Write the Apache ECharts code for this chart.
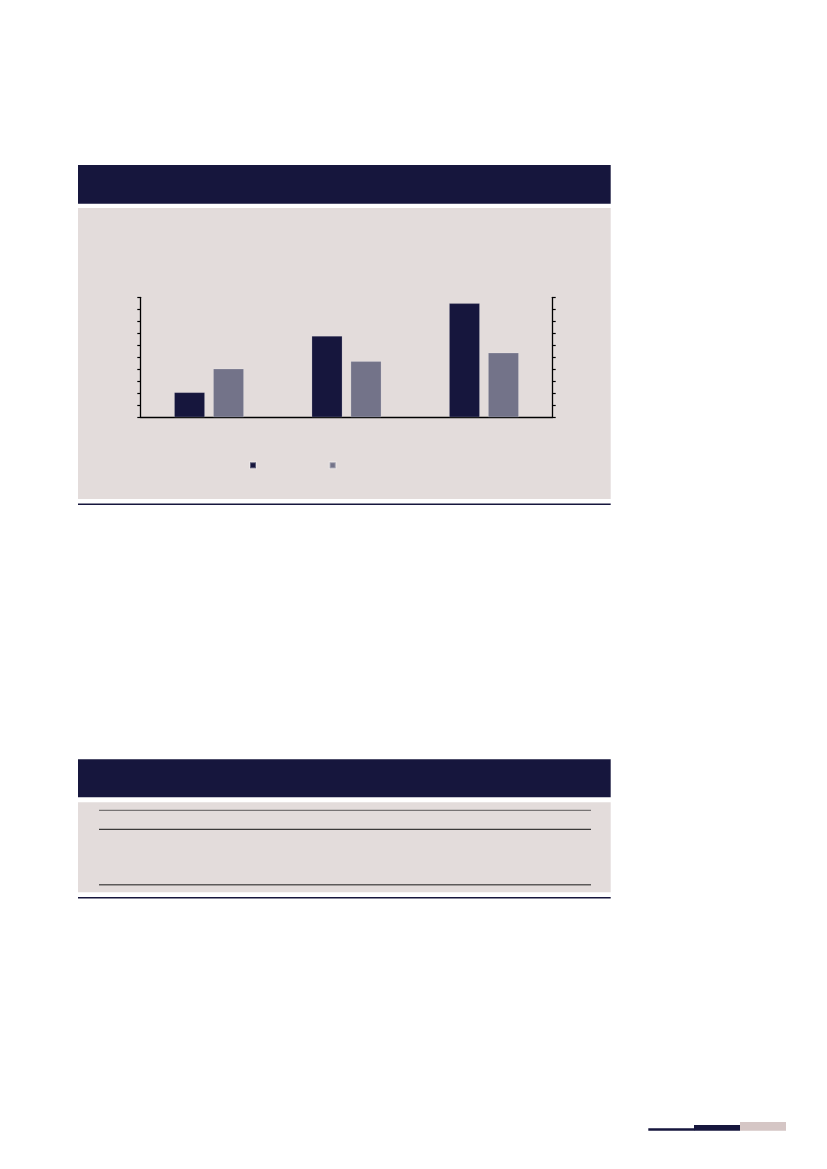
<!doctype html>
<html>
    <head>
        <meta charset="utf-8">
        <style>
            html, body { margin: 0; padding: 0; background: #fff; }
            #main { width: 827px; height: 1169px; }
        </style>
    </head>
    <body>
        <div id="main"></div>
        <script src="https://cdn.jsdelivr.net/npm/echarts@6/dist/echarts.min.js"></script>
        <script>
            // chart data (labels are not printed in the picture)
            var categories = ['A', 'B', 'C'];
            var seriesNames = ['Series 1', 'Series 2'];
            var series1 = [2.08, 6.78, 9.5];
            var series2 = [4.05, 4.67, 5.38];
            var axisMin = 0;
            var axisMax = 10;
            var axisStep = 1;

            var navy = '#16163d';
            var slate = '#737389';
            var panel = '#e3dcdb';

            var chart = echarts.init(document.getElementById('main'));

            function box(x, y, w, h, fill) {
                return {
                    type: 'rect',
                    silent: true,
                    z: -10,
                    shape: { x: x, y: y, width: w, height: h },
                    style: { fill: fill }
                };
            }
            function hline(x1, x2, y, color, width) {
                return {
                    type: 'line',
                    silent: true,
                    z: -5,
                    shape: { x1: x1, y1: y, x2: x2, y2: y },
                    style: { stroke: color, lineWidth: width }
                };
            }

            var yAxisBase = {
                type: 'value',
                min: axisMin,
                max: axisMax,
                interval: axisStep,
                axisLine: { show: true, lineStyle: { color: '#000', width: 1.3 } },
                axisTick: { show: true, length: 3, lineStyle: { color: '#000', width: 1.2 } },
                axisLabel: { show: false },
                splitLine: { show: false }
            };

            chart.setOption({
                animation: false,
                backgroundColor: '#fff',
                graphic: [
                    // first panel
                    box(78, 165, 532.7, 38.7, navy),
                    box(78, 208, 532.7, 291, panel),
                    box(78, 503.6, 532.7, 1.4, navy),
                    // second panel (table)
                    box(78, 759.3, 532.7, 38, navy),
                    box(78, 802.3, 532.7, 90, panel),
                    box(78, 897, 532.7, 1.4, navy),
                    hline(99, 591, 810.3, '#5d5a5a', 1),
                    hline(99, 591, 829.3, '#111', 1),
                    hline(99, 591, 884.7, '#5d5a5a', 1.5),
                    // footer marks
                    box(648.3, 1128.2, 46, 2.5, navy),
                    box(694, 1125, 46, 5.7, navy),
                    box(740, 1122, 46, 8.7, '#d5c6c5')
                ],
                legend: [{
                    data: [seriesNames[0]],
                    left: 249,
                    top: 461.3,
                    padding: 0,
                    itemWidth: 6,
                    itemHeight: 6,
                    icon: 'rect',
                    selectedMode: false,
                    formatter: function () { return ''; }
                }, {
                    data: [seriesNames[1]],
                    left: 328.7,
                    top: 461.3,
                    padding: 0,
                    itemWidth: 6,
                    itemHeight: 6,
                    icon: 'rect',
                    selectedMode: false,
                    formatter: function () { return ''; }
                }],
                grid: {
                    left: 140.3,
                    right: 274.3,
                    top: 297.3,
                    height: 120,
                    containLabel: false
                },
                xAxis: {
                    type: 'category',
                    data: categories,
                    axisLine: { show: true, lineStyle: { color: '#000', width: 1.3 } },
                    axisTick: { show: false },
                    axisLabel: { show: false },
                    splitLine: { show: false }
                },
                yAxis: [
                    Object.assign({}, yAxisBase, { position: 'left' }),
                    Object.assign({}, yAxisBase, { position: 'right' })
                ],
                series: [{
                    name: seriesNames[0],
                    type: 'bar',
                    data: series1,
                    barWidth: 30.7,
                    barGap: '27%',
                    itemStyle: { color: navy, borderColor: 'rgba(255,255,255,0.3)', borderWidth: 0.6 }
                }, {
                    name: seriesNames[1],
                    type: 'bar',
                    data: series2,
                    barWidth: 30.7,
                    barGap: '27%',
                    itemStyle: { color: slate, borderColor: 'rgba(255,255,255,0.3)', borderWidth: 0.6 }
                }]
            });

            window.onresize = chart.resize;
        </script>
    </body>
</html>
